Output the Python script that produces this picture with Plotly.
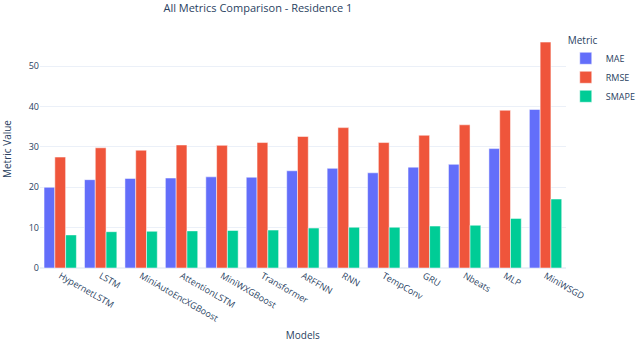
import plotly.graph_objects as go

# model scores
models = ["HypernetLSTM", "LSTM", "MiniAutoEncXGBoost", "AttentionLSTM", "MiniWXGBoost",
          "Transformer", "ARFFNN", "RNN", "TempConv", "GRU", "Nbeats", "MLP", "MiniWSGD"]
mae = [20.0, 21.9, 22.2, 22.3, 22.6, 22.5, 24.1, 24.7, 23.6, 25.0, 25.7, 29.6, 39.3]
rmse = [27.5, 29.8, 29.2, 30.5, 30.4, 31.1, 32.6, 34.8, 31.1, 32.9, 35.5, 39.1, 56.0]
smape = [8.2, 9.0, 9.1, 9.2, 9.3, 9.4, 9.9, 10.1, 10.1, 10.4, 10.6, 12.3, 17.1]

fig = go.Figure()
fig.add_trace(go.Bar(x=models, y=mae, name="MAE", marker_color="#636EFA"))
fig.add_trace(go.Bar(x=models, y=rmse, name="RMSE", marker_color="#EF553B"))
fig.add_trace(go.Bar(x=models, y=smape, name="SMAPE", marker_color="#00CC96"))

fig.update_traces(marker_line_color="white", marker_line_width=0.5)
fig.update_layout(
    template="plotly_white",
    width=640, height=342,
    barmode="group",
    font=dict(family="Open Sans, sans-serif", size=9, color="#2a3f5f"),
    title=dict(text="All Metrics Comparison - Residence 1", x=0.403, xanchor="center",
               y=0.988, yanchor="top", font=dict(size=11)),
    margin=dict(l=40, r=60, t=30, b=74),
    legend=dict(title=dict(text="Metric", font=dict(size=10)),
                xref="container", x=0.884, xanchor="left",
                yref="container", y=0.91, yanchor="top", font=dict(size=9)),
    xaxis=dict(title=dict(text="Models", font=dict(size=10), standoff=10),
               tickangle=30, automargin=False),
    yaxis=dict(title=dict(text="Metric Value", font=dict(size=10)), range=[0, 59],
               automargin=False),
)

# drop the browser's default body margin so the figure sits at the page corner
fig.write_html("out.html", config={"displayModeBar": False},
               post_script="document.body.style.margin='0';")
